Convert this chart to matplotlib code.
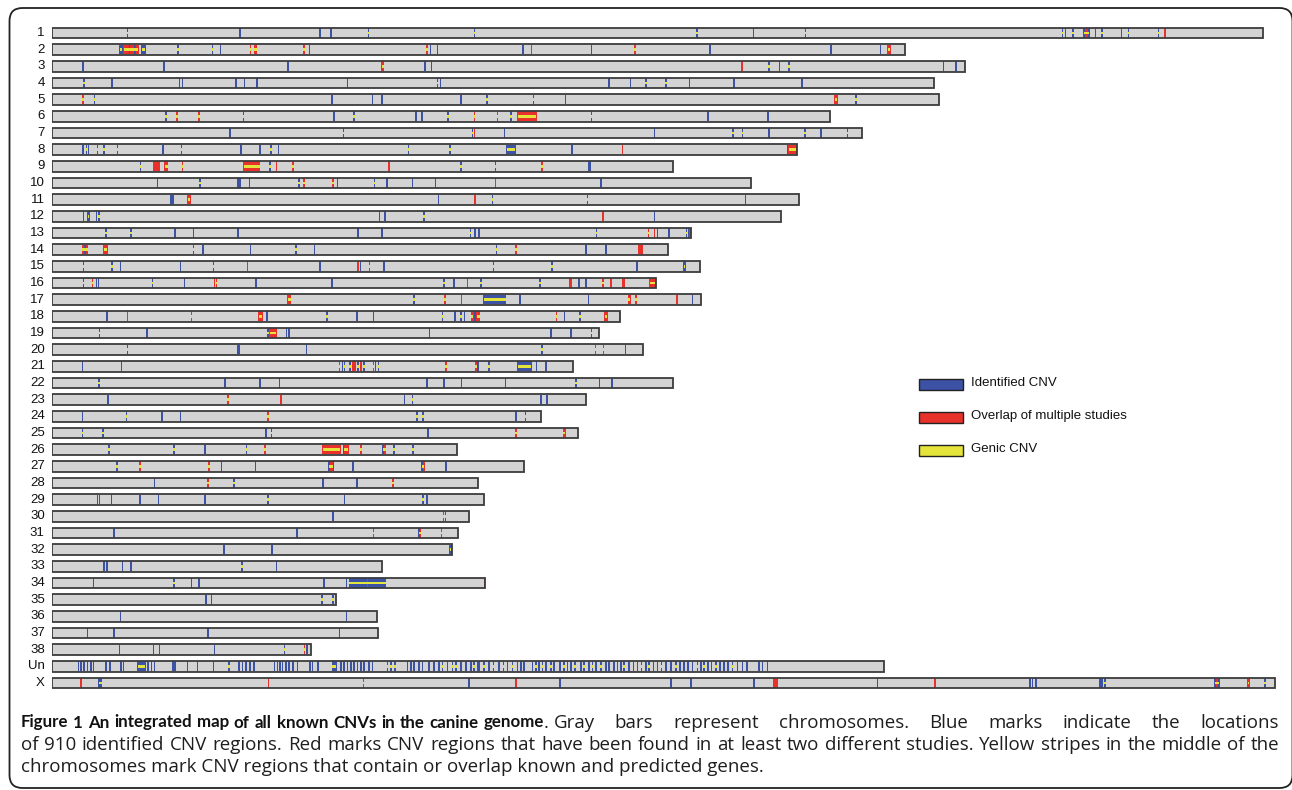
import matplotlib.pyplot as plt
from matplotlib.font_manager import FontProperties
from matplotlib.patches import Rectangle, FancyBboxPatch
from matplotlib.transforms import Affine2D

W, H = 1292, 790

# chromosome names and lengths (Mb)
chroms = [str(i) for i in range(1, 39)] + ['Un', 'X']
lengths = [125.0, 88.0, 94.2, 91.0, 91.5, 80.3, 83.6, 76.9, 64.1, 72.1,
           77.1, 75.2, 65.9, 63.6, 66.9, 62.3, 67.0, 58.6, 56.5, 61.0,
           53.8, 64.1, 55.1, 50.5, 54.3, 41.8, 48.7, 44.0, 44.6, 43.0,
           41.9, 41.3, 34.1, 44.7, 29.3, 33.5, 33.6, 26.7, 85.9, 126.2]

# CNV marks: (pos, kind) for a thin mark, (start, end, kind) for a block
# kind: b = identified, r = overlap of studies, trailing g = genic
cnv_1 = [(7.7, 'bg'), (19.3, 'b'), (27.6, 'b'), (28.7, 'b'), (32.6, 'bg'), (43.5, 'bg'),
         (66.5, 'bg'), (72.3, 'b'), (77.7, 'bg'), (104.2, 'bg'), (104.5, 'b'), (105.3, 'bg'),
         (106.4, 107.1, 'bg'), (106.6, 106.9, 'rg'), (107.6, 'b'), (108.3, 'bg'), (110.3, 'b'),
         (111.0, 'bg'), (114.1, 'bg'), (114.8, 'r')]
cnv_2 = [(6.9, 7.3, 'bg'), (7.3, 9.0, 'rg'), (7.9, 'b'), (8.5, 'b'), (9.2, 9.7, 'bg'),
         (12.9, 'bg'), (16.5, 'bg'), (17.3, 'b'), (20.4, 'rg'), (20.8, 21.2, 'rg'), (25.9, 'rg'),
         (26.5, 'b'), (38.6, 'rg'), (39.0, 'b'), (39.7, 'b'), (48.5, 'b'), (49.4, 'r'), (55.6, 'b'),
         (60.1, 'rg'), (67.8, 'b'), (80.3, 'b'), (85.4, 'b'), (86.2, 86.6, 'rg')]
cnv_3 = [(3.1, 'b'), (11.5, 'b'), (24.3, 'b'), (34.0, 34.3, 'rg'), (38.4, 'b'), (39.1, 'b'),
         (71.1, 'r'), (73.9, 'bg'), (75.0, 'b'), (76.0, 'bg'), (91.9, 'b'), (93.2, 'b')]
cnv_4 = [(3.2, 'bg'), (6.1, 'b'), (13.1, 'b'), (13.4, 'b'), (18.9, 'b'), (19.8, 'b'), (21.1, 'b'),
         (30.4, 'b'), (39.7, 'bg'), (40.0, 'b'), (57.4, 'b'), (59.6, 'b'), (61.2, 'bg'),
         (63.3, 'bg'), (65.7, 'b'), (70.3, 'b'), (77.3, 'b')]
cnv_5 = [(3.1, 'rg'), (4.3, 'bg'), (28.8, 'b'), (33.0, 'b'), (34.0, 'b'), (42.1, 'b'),
         (44.8, 'bg'), (49.6, 'bg'), (52.9, 'b'), (80.7, 81.1, 'rg'), (82.9, 'bg')]
cnv_6 = [(11.7, 'bg'), (12.8, 'rg'), (15.1, 'rg'), (19.7, 'bg'), (29.0, 'b'), (31.1, 'bg'),
         (37.5, 'b'), (38.1, 'b'), (40.8, 'bg'), (43.5, 'rg'), (45.9, 'rg'), (47.3, 'bg'),
         (48.0, 50.0, 'rg'), (55.6, 'bg'), (67.6, 'b'), (73.8, 'b')]
cnv_7 = [(18.3, 'b'), (30.0, 'bg'), (43.3, 'bg'), (43.5, 'r'), (46.6, 'b'), (62.1, 'b'),
         (70.2, 'bg'), (71.2, 'bg'), (73.9, 'b'), (77.6, 'bg'), (79.3, 'b'), (82.0, 'bg')]
cnv_8 = [(3.1, 'b'), (3.5, 'bg'), (3.7, 'b'), (4.6, 'bg'), (5.3, 'bg'), (6.7, 'bg'), (11.4, 'b'),
         (13.3, 'bg'), (19.4, 'b'), (21.4, 'b'), (22.5, 'bg'), (23.3, 'b'), (36.7, 'bg'),
         (41.0, 'bg'), (46.9, 47.9, 'bg'), (53.6, 'b'), (58.8, 'r'), (76.0, 76.9, 'rg'), (75.8, 'b')]
cnv_9 = [(9.05, 'bg'), (10.4, 11.1, 'r'), (11.6, 12.0, 'rg'), (13.4, 'rg'), (19.7, 21.5, 'rg'),
         (22.4, 'bg'), (23.1, 'r'), (24.8, 'rg'), (34.7, 'r'), (42.1, 'bg'), (45.7, 'bg'),
         (50.5, 'rg'), (55.3, 55.6, 'b')]
cnv_10 = [(10.8, 'b'), (15.2, 'bg'), (19.1, 'b'), (19.3, 'b'), (20.3, 'b'), (25.4, 'bg'),
          (25.9, 'rg'), (28.9, 'rg'), (29.4, 'b'), (33.2, 'bg'), (34.5, 'b'), (37.1, 'b'),
          (39.5, 'b'), (45.7, 'r'), (56.6, 'b')]
cnv_11 = [(12.2, 12.6, 'b'), (13.95, 14.3, 'rg'), (39.8, 'b'), (43.6, 'r'), (45.4, 'bg'),
          (55.2, 'bg'), (71.5, 'b')]
cnv_12 = [(3.16, 'b'), (3.6, 3.9, 'bg'), (4.5, 'b'), (4.75, 'bg'), (33.7, 'b'), (34.3, 'b'),
          (38.3, 'bg'), (56.8, 'r'), (62.1, 'b')]
cnv_13 = [(5.5, 'bg'), (8.1, 'bg'), (12.6, 'b'), (14.5, 'b'), (19.1, 'b'), (31.5, 'b'),
          (34.0, 'b'), (43.1, 'bg'), (43.6, 'b'), (44.0, 'b'), (56.1, 'bg'), (61.5, 'rg'),
          (62.1, 'r'), (62.4, 'b'), (63.6, 'b'), (65.4, 'bg'), (65.6, 'b'), (65.75, 'r')]
cnv_14 = [(3.05, 3.75, 'rg'), (3.3, 'b'), (5.3, 5.8, 'rg'), (14.5, 'bg'), (15.5, 'b'), (20.4, 'b'),
          (25.1, 'bg'), (27.0, 'b'), (45.8, 'bg'), (47.8, 'rg'), (55.0, 'b'), (57.1, 'b'),
          (60.5, 61.0, 'r')]
cnv_15 = [(3.16, 'bg'), (6.1, 'bg'), (7.0, 'b'), (13.2, 'b'), (16.6, 'bg'), (20.1, 'r'),
          (27.6, 'b'), (31.5, 'r'), (31.75, 'b'), (32.7, 'rg'), (34.2, 'b'), (45.5, 'bg'),
          (51.5, 'bg'), (60.3, 'b'), (65.1, 65.4, 'bg')]
cnv_16 = [(3.16, 'bg'), (4.1, 'rg'), (4.5, 'b'), (4.7, 'b'), (10.3, 'bg'), (13.6, 'b'),
          (16.7, 'r'), (16.9, 'rg'), (21.0, 'b'), (28.8, 'b'), (40.4, 'bg'), (41.4, 'b'),
          (42.8, 'r'), (44.2, 'bg'), (50.3, 'bg'), (53.4, 53.7, 'r'), (54.3, 'b'), (55.0, 'b'),
          (56.8, 'rg'), (57.6, 'r'), (58.8, 59.1, 'r'), (61.6, 62.3, 'rg')]
cnv_17 = [(24.3, 24.7, 'rg'), (37.3, 'bg'), (40.5, 'rg'), (42.2, 'r'), (44.5, 46.9, 'bg'),
          (48.2, 'b'), (55.3, 'b'), (59.4, 59.7, 'rg'), (60.2, 'rg'), (64.4, 'r'), (66.0, 'b')]
cnv_18 = [(5.6, 'b'), (7.7, 'r'), (14.3, 'rg'), (21.3, 21.8, 'rg'), (22.1, 'b'), (28.3, 'bg'),
          (31.4, 'b'), (33.1, 'b'), (40.2, 'bg'), (41.5, 'b'), (42.1, 'bg'), (42.5, 'b'),
          (43.2, 43.5, 'rg'), (43.6, 'b'), (43.8, 44.2, 'rg'), (52.0, 'rg'), (52.8, 'b'),
          (54.4, 'bg'), (57.0, 57.4, 'rg'), (58.5, 'bg')]
cnv_19 = [(4.8, 'bg'), (9.75, 'b'), (22.2, 'bg'), (22.4, 23.2, 'rg'), (24.1, 'b'), (24.4, 'b'),
          (38.9, 'b'), (51.4, 'b'), (53.5, 'b'), (55.6, 'bg')]
cnv_20 = [(7.7, 'bg'), (19.1, 19.4, 'b'), (26.2, 'b'), (50.5, 'bg'), (56.0, 'rg'),
          (56.85, 'rg'), (59.1, 'b')]
cnv_21 = [(3.08, 'b'), (7.1, 'b'), (29.6, 'rg'), (29.9, 'b'), (30.1, 'bg'), (30.7, 'bg'),
          (31.0, 'r'), (31.2, 'r'), (31.5, 'bg'), (31.8, 'r'), (32.1, 'bg'), (33.1, 'rg'),
          (33.3, 'b'), (33.6, 'bg'), (40.6, 'rg'), (43.7, 'rg'), (43.9, 'b'), (45.0, 'bg'),
          (48.0, 49.5, 'bg'), (49.9, 'b'), (50.9, 'b')]
cnv_22 = [(4.75, 'bg'), (17.8, 'b'), (21.4, 'b'), (23.4, 'b'), (38.6, 'b'), (40.4, 'b'),
          (42.2, 'b'), (46.7, 'b'), (54.0, 'bg'), (56.4, 'b'), (57.7, 'b')]
cnv_23 = [(5.7, 'b'), (18.1, 'rg'), (23.55, 23.75, 'rg'), (36.3, 'b'), (37.1, 'bg'),
          (50.4, 'b'), (51.0, 'b')]
cnv_24 = [(3.08, 'b'), (7.6, 'bg'), (11.3, 'b'), (13.2, 'b'), (22.2, 'rg'), (37.6, 'bg'),
          (38.2, 'bg'), (47.8, 48.0, 'b'), (48.8, 'bg')]
cnv_25 = [(3.08, 'bg'), (5.2, 'bg'), (22.0, 'b'), (22.55, 22.75, 'bg'), (38.7, 'b'),
          (47.8, 'rg'), (52.7, 53.0, 'rg')]
cnv_26 = [(5.8, 'bg'), (12.5, 'bg'), (15.7, 'b'), (20.0, 'bg'), (21.9, 'rg'), (27.9, 29.8, 'rg'),
          (30.0, 'b'), (30.1, 30.6, 'rg'), (31.8, 'rg'), (34.1, 34.5, 'bg'), (34.3, 'r'),
          (35.2, 'bg'), (37.2, 'bg')]
cnv_27 = [(6.6, 'bg'), (9.0, 'rg'), (16.1, 'rg'), (17.4, 'b'), (20.9, 'b'), (28.5, 29.1, 'bg'),
          (28.7, 28.95, 'rg'), (31.0, 'b'), (38.1, 38.5, 'bg'), (38.3, 'r'), (40.6, 'b')]
cnv_28 = [(10.5, 'b'), (16.0, 'rg'), (18.7, 'bg'), (27.9, 'b'), (31.4, 'b'), (35.1, 'rg')]
cnv_29 = [(4.6, 'b'), (4.8, 'b'), (6.05, 'b'), (9.0, 'b'), (10.9, 'b'), (15.7, 'b'),
          (22.2, 'bg'), (30.1, 'b'), (38.2, 'bg'), (38.6, 'b')]
cnv_30 = [(28.9, 'b'), (40.3, 'rg'), (40.55, 'bg')]
cnv_31 = [(6.3, 'b'), (25.2, 'b'), (33.1, 'rg'), (37.8, 38.1, 'bg'), (37.95, 'rg'), (40.1, 'rg')]
cnv_32 = [(17.65, 17.85, 'b'), (22.6, 'b'), (41.0, 41.25, 'bg')]
cnv_33 = [(5.3, 'b'), (5.55, 5.8, 'b'), (7.2, 'b'), (8.1, 'b'), (19.5, 'bg'), (23.1, 'b')]
cnv_34 = [(4.2, 'b'), (12.5, 'bg'), (14.3, 14.45, 'bg'), (15.1, 'b'), (28.0, 'b'), (30.3, 'b'),
          (30.6, 34.5, 'bg'), (32.5, 'r'), (44.55, 'r')]
cnv_35 = [(15.8, 'b'), (16.4, 'b'), (27.8, 'bg'), (28.9, 'bg')]
cnv_36 = [(7.0, 'b'), (30.3, 'b')]
cnv_37 = [(3.6, 'b'), (6.3, 'b'), (16.0, 'b'), (29.6, 'b')]
cnv_38 = [(6.9, 'b'), (10.4, 'b'), (11.0, 'b'), (16.7, 'b'), (23.9, 'bg'), (26.0, 'rg'), (26.25, 'b')]
cnv_Un = [(2.65, 'b'), (2.89, 'b'), (3.23, 'b'), (3.58, 'b'), (3.92, 'b'), (4.2, 'b'), (5.47, 'b'),
          (5.92, 'b'), (7.02, 'b'), (7.29, 'b'), (8.8, 9.7, 'bg'), (9.84, 'b'), (10.18, 'b'),
          (10.52, 'b'), (12.35, 12.8, 'b'), (13.9, 'b'), (14.93, 'b'), (16.58, 'b'), (18.2, 'bg'),
          (19.23, 'b'), (19.57, 'b'), (19.92, 'b'), (20.36, 'b'), (20.78, 'b'), (22.9, 'b'),
          (23.18, 'b'), (23.46, 'b'), (23.7, 'b'), (24.04, 'b'), (24.39, 'b'), (24.8, 'b'),
          (25.25, 'b'), (26.55, 'b'), (26.8, 'b'), (27.38, 'b'), (28.86, 29.38, 'bg'),
          (29.72, 'b'), (30.06, 'b'), (30.41, 'b'), (30.75, 'b'), (31.1, 'b'), (31.44, 'b'),
          (31.78, 'b'), (32.13, 'b'), (32.64, 'b'), (32.99, 'b'), (34.54, 'bg'), (34.9, 'bg'),
          (35.3, 'bg'), (36.6, 'b'), (36.94, 'b'), (37.29, 'b'), (37.8, 'b'), (38.15, 'b'),
          (38.83, 'b'), (39.35, 'b'), (39.87, 'b'), (40.21, 'bg'), (40.73, 'b'), (41.24, 'bg'),
          (41.59, 'bg'), (42.1, 'b'), (42.62, 'b'), (43.14, 'b'), (43.48, 'bg'), (43.89, 'b'),
          (44.0, 'b'), (44.52, 'bg'), (45.03, 'b'), (45.48, 'bg'), (46.06, 'b'), (46.51, 'bg'),
          (46.92, 'b'), (47.44, 'bg'), (47.96, 'b'), (48.3, 'b'), (48.64, 'b'), (49.5, 'b'),
          (49.85, 'bg'), (50.19, 'b'), (50.54, 'bg'), (50.88, 'b'), (51.4, 'bg'), (51.74, 'b'),
          (52.36, 'b'), (52.77, 'bg'), (53.12, 'b'), (53.46, 'b'), (53.87, 'bg'), (54.49, 'b'),
          (54.84, 'bg'), (55.35, 'b'), (55.7, 'bg'), (56.04, 'b'), (56.56, 'bg'), (57.07, 'b'),
          (57.42, 'b'), (57.93, 'b'), (58.28, 'b'), (58.62, 'b'), (58.96, 'bg'), (59.48, 'b'),
          (59.93, 'b'), (60.34, 'b'), (60.75, 'bg'), (61.2, 'b'), (61.54, 'bg'), (61.99, 'b'),
          (62.4, 'b'), (62.82, 'bg'), (63.26, 'b'), (63.78, 'b'), (64.3, 'bg'), (64.74, 'b'),
          (65.16, 'b'), (65.57, 'b'), (66.02, 'b'), (66.53, 'bg'), (66.88, 'b'), (67.22, 'bg'),
          (67.63, 'b'), (67.98, 'b'), (68.42, 'bg'), (68.87, 'b'), (69.28, 'b'), (69.7, 'b'),
          (70.14, 'bg'), (70.66, 'b'), (71.18, 'b'), (71.62, 'b'), (72.9, 'b'), (73.24, 'b'),
          (73.76, 'b')]
cnv_X = [(2.89, 'r'), (4.78, 5.19, 'bg'), (22.25, 'r'), (32.06, 'rg'), (42.96, 'b'), (47.78, 'r'),
         (52.36, 'b'), (63.78, 'b'), (65.84, 'b'), (72.38, 'b'), (74.44, 74.96, 'r'), (85.1, 'b'),
         (91.06, 'r'), (100.83, 'b'), (101.1, 'b'), (101.45, 'b'), (108.05, 'b'), (108.3, 'b'),
         (108.57, 'bg'), (119.95, 120.5, 'bg'), (120.1, 120.35, 'rg'), (123.3, 123.6, 'rg'),
         (125.08, 'bg')]

marks = [cnv_1, cnv_2, cnv_3, cnv_4, cnv_5, cnv_6, cnv_7, cnv_8, cnv_9, cnv_10,
         cnv_11, cnv_12, cnv_13, cnv_14, cnv_15, cnv_16, cnv_17, cnv_18, cnv_19, cnv_20,
         cnv_21, cnv_22, cnv_23, cnv_24, cnv_25, cnv_26, cnv_27, cnv_28, cnv_29, cnv_30,
         cnv_31, cnv_32, cnv_33, cnv_34, cnv_35, cnv_36, cnv_37, cnv_38, cnv_Un, cnv_X]

legend_labels = ['Identified CNV', 'Overlap of multiple studies', 'Genic CNV']

# caption, wrapped as in the original
caption_title = 'Figure 1 An integrated map of all known CNVs in the canine genome'
caption_line1 = '. Gray bars represent chromosomes. Blue marks indicate the locations'
caption_line2 = ('of 910 identified CNV regions. Red marks CNV regions that have been found in at '
                 'least two different studies. Yellow stripes in the middle of the')
caption_line3 = 'chromosomes mark CNV regions that contain or overlap known and predicted genes.'

GRAY = '#d3d3d3'
EDGE = '#3c3c3c'
BLUE = '#3c52a4'
RED = '#e8312a'
YELLOW = '#e4e43a'
THIN = 0.16

fig = plt.figure(figsize=(W / 100, H / 100), dpi=100)
pix = Affine2D().scale(1 / W, 1 / H) + fig.transFigure   # pixel coords, origin bottom left

ax = fig.add_axes([52 / W, (H - 691.3) / H, 1235.5 / W, 666.7 / H])
ax.set_xlim(0, 127.5)
ax.set_ylim(len(chroms) - 0.5, -0.5)
ax.axis('off')

# split marks into drawing groups
groups = {k: ([], [], []) for k in ('blue_block', 'red_block', 'blue_thin', 'red_thin', 'yellow')}
for row, cnvs in enumerate(marks):
    for m in cnvs:
        if len(m) == 2:
            start, end, kind = m[0], m[0] + THIN, m[1]
            size = 'thin'
        else:
            start, end, kind = m
            size = 'block'
        col = 'blue' if kind[0] == 'b' else 'red'
        g = groups[col + '_' + size]
        g[0].append(row); g[1].append(end - start); g[2].append(start)
        if kind.endswith('g'):
            inset = 0.0 if size == 'thin' else 0.08
            y = groups['yellow']
            y[0].append(row); y[1].append(end - start - 2 * inset); y[2].append(start + inset)

rows = range(len(chroms))
ax.barh(rows, lengths, left=0, height=0.64, color=GRAY, linewidth=0, zorder=1)
styles = [('blue_block', BLUE, 0.58, 2.0), ('red_block', RED, 0.58, 2.2),
          ('blue_thin', BLUE, 0.58, 2.4), ('red_thin', RED, 0.58, 2.6),
          ('yellow', YELLOW, 0.15, 3.0)]
for key, color, hgt, z in styles:
    r, w, l = groups[key]
    ax.barh(r, w, left=l, height=hgt, color=color, linewidth=0, zorder=z)
ax.barh(rows, lengths, left=0, height=0.64, facecolor='none', edgecolor=EDGE,
        linewidth=1.3, zorder=4)

for row, name in enumerate(chroms):
    ax.text(-0.75, row, name, ha='right', va='center', fontsize=9.5,
            family='Liberation Sans', color='#111111', clip_on=False)

# legend
for i, (label, color) in enumerate(zip(legend_labels, [BLUE, RED, YELLOW])):
    yc = H - (384 + 33 * i)
    fig.add_artist(Rectangle((919, yc - 5.5), 44, 11, facecolor=color, edgecolor='#222222',
                             linewidth=1.0, transform=pix))
    fig.text(971, yc + 1, label, transform=pix, ha='left', va='center', fontsize=9.5,
             family='Liberation Sans', color='#111111')

# frame around figure
fig.add_artist(FancyBboxPatch((9.5, 2), 1283, H - 10, boxstyle='round,pad=0,rounding_size=13',
                              facecolor='none', edgecolor='#222222', linewidth=1.3,
                              transform=pix))

# ---- caption ----
renderer = fig.canvas.get_renderer()
normal_fp = FontProperties(family='Open Sans')
bold_fp = FontProperties(family='Lato', weight='bold')


def width(txt, fp, size):
    t = fig.text(0, 0, txt, fontproperties=fp, fontsize=size, transform=pix)
    w = t.get_window_extent(renderer).width
    t.remove()
    return w


fs = 10 * 742 / width(caption_line3, normal_fp, 10)
space = width('a a', normal_fp, fs) - width('aa', normal_fp, fs)
x_left, x_right = 21, 1279
INK = '#1e1e1e'


def place(words, x0, x1, y, fp, size, color):
    # spread words over [x0, x1] with even gaps
    w = [width(s, fp, size) for s in words]
    gap = (x1 - x0 - sum(w)) / max(len(words) - 1, 1)
    x = x0
    for s, ws in zip(words, w):
        fig.text(x, y, s, fontproperties=fp, fontsize=size, color=color,
                 transform=pix, va='baseline', ha='left')
        x += ws + gap


# line 1: bold title, then the rest justified to the right margin
title_words = caption_title.split()
bsize = fs * 0.9
B = sum(width(w, bold_fp, bsize) for w in title_words)
bold_end = x_left + B + (len(title_words) - 1) * space
y1 = H - 727.5
place(title_words, x_left, bold_end, y1, bold_fp, bsize, '#111111')
rest_words = caption_line1.split()
dot_w = width(rest_words[0], normal_fp, fs)
fig.text(bold_end, y1, rest_words[0], fontproperties=normal_fp, fontsize=fs, color=INK,
         transform=pix, va='baseline', ha='left')
place(rest_words[1:], bold_end + dot_w + space, x_right, y1, normal_fp, fs, INK)

# line 2 justified
place(caption_line2.split(), x_left, x_right, H - 750, normal_fp, fs, INK)

# line 3 natural spacing
fig.text(x_left, H - 772.5, caption_line3, fontproperties=normal_fp, fontsize=fs, color=INK,
         transform=pix, va='baseline', ha='left')

fig.savefig('out.png', dpi=100, facecolor='white')
